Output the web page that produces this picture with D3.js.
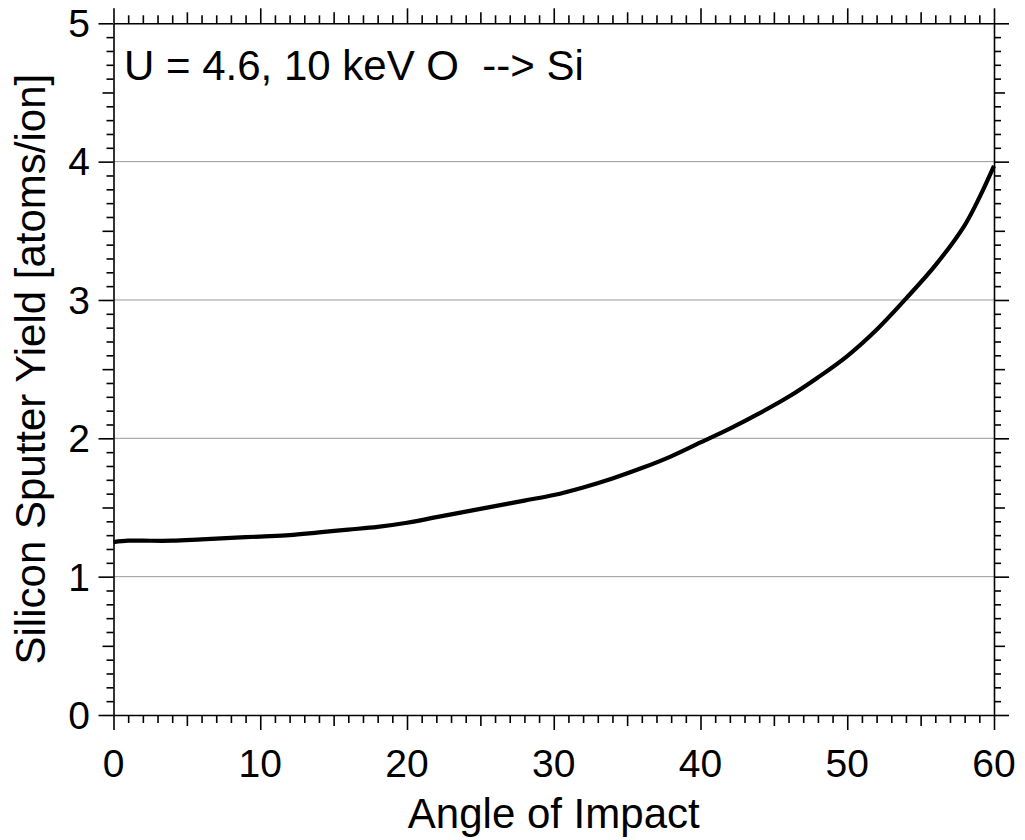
<!DOCTYPE html>
<html>
<head>
<meta charset="utf-8">
<script src="https://cdn.jsdelivr.net/npm/d3@7"></script>
<style>
  html, body { margin: 0; padding: 0; background: #fff; }
  svg text { font-family: "Liberation Sans", Arial, sans-serif; fill: #000; }
</style>
</head>
<body>
<svg id="chart" width="1025" height="840"></svg>
<script>
// ---- data ----
const angles = [0, 1, 2, 4, 6, 8, 10, 12, 14, 16, 18, 20, 22, 24, 26, 28, 30, 32, 34, 36, 38, 40, 42, 44, 46, 48, 50, 52, 54, 56, 58, 59, 60];
const yields = [1.25, 1.26, 1.26, 1.26, 1.27, 1.28, 1.29, 1.30, 1.32, 1.34, 1.36, 1.39, 1.43, 1.47, 1.51, 1.55, 1.59, 1.645, 1.71, 1.785, 1.87, 1.97, 2.07, 2.18, 2.30, 2.44, 2.595, 2.785, 3.01, 3.25, 3.54, 3.74, 3.97];
const xTickLabels = [0, 10, 20, 30, 40, 50, 60];
const yTickLabels = [0, 1, 2, 3, 4, 5];
const gridValues = [1, 2, 3, 4];
const annotation = "U = 4.6, 10 keV O  --> Si";
const xTitle = "Angle of Impact";
const yTitle = "Silicon Sputter Yield [atoms/ion]";

// ---- layout ----
const L = 113.5, R = 994, T = 23.3, B = 715;
const svg = d3.select("#chart");
const x = d3.scaleLinear().domain([0, 60]).range([L, R]);
const y = d3.scaleLinear().domain([0, 5]).range([B, T]);

// gridlines
svg.append("g").selectAll("line").data(gridValues).join("line")
  .attr("x1", L).attr("x2", R)
  .attr("y1", d => y(d)).attr("y2", d => y(d))
  .attr("stroke", "#999").attr("stroke-width", 1);

// ticks helpers
const xMinor = d3.range(0, 61, 1).filter(d => d % 5 !== 0);
const xMed = d3.range(5, 60, 10);
const xMaj = xTickLabels;
const yMinor = d3.range(0, 51, 1).map(d => d / 10).filter(d => Math.round(d * 10) % 5 !== 0);
const yMed = d3.range(0.5, 5, 1);
const yMaj = yTickLabels;

function styleAxis(g) {
  g.selectAll("path.domain").attr("stroke", "#000").attr("stroke-width", 1.6);
  g.selectAll(".tick line").attr("stroke", "#000").attr("stroke-width", 1.6);
  g.selectAll(".tick text").remove();
}

function addAxis(gen, tx, ty, vals, size, domain) {
  const g = svg.append("g").attr("transform", `translate(${tx},${ty})`)
    .call(gen.tickValues(vals).tickSize(size).tickSizeOuter(0).tickFormat(""));
  styleAxis(g);
  if (!domain) g.select("path.domain").remove();
  return g;
}

// bottom
addAxis(d3.axisBottom(x), 0, B, xMinor, 8, false);
addAxis(d3.axisBottom(x), 0, B, xMed, 11, false);
addAxis(d3.axisBottom(x), 0, B, xMaj, 15, true);
// top
addAxis(d3.axisTop(x), 0, T, xMinor, 8, false);
addAxis(d3.axisTop(x), 0, T, xMed, 11, false);
addAxis(d3.axisTop(x), 0, T, xMaj, 15, true);
// left
addAxis(d3.axisLeft(y), L, 0, yMinor, 7, false);
addAxis(d3.axisLeft(y), L, 0, yMed, 11, false);
addAxis(d3.axisLeft(y), L, 0, yMaj, 15, true);
// right
addAxis(d3.axisRight(y), R, 0, yMinor, 7, false);
addAxis(d3.axisRight(y), R, 0, yMed, 11, false);
addAxis(d3.axisRight(y), R, 0, yMaj, 15, true);

// tick labels
svg.append("g").selectAll("text").data(xTickLabels).join("text")
  .attr("x", d => x(d)).attr("y", 777)
  .attr("text-anchor", "middle").attr("font-size", 39)
  .text(d => d);
svg.append("g").selectAll("text").data(yTickLabels).join("text")
  .attr("x", 90).attr("y", d => y(d))
  .attr("dy", "0.355em")
  .attr("text-anchor", "end").attr("font-size", 39)
  .text(d => d);

// titles
svg.append("text").attr("x", (L + R) / 2).attr("y", 828)
  .attr("text-anchor", "middle").attr("font-size", 42).text(xTitle);
svg.append("text")
  .attr("transform", `translate(45,${(T + B) / 2}) rotate(-90)`)
  .attr("text-anchor", "middle").attr("font-size", 42).text(yTitle);

// annotation
svg.append("text").attr("x", 124).attr("y", 80)
  .attr("font-size", 42).style("white-space", "pre").attr("xml:space", "preserve")
  .text(annotation);

// curve
const data = angles.map((a, i) => [a, yields[i]]);
svg.append("path").datum(data)
  .attr("fill", "none").attr("stroke", "#000").attr("stroke-width", 4.2)
  .attr("stroke-linejoin", "round")
  .attr("d", d3.line().x(d => x(d[0])).y(d => y(d[1])).curve(d3.curveCatmullRom.alpha(0.5)));
</script>
</body>
</html>
